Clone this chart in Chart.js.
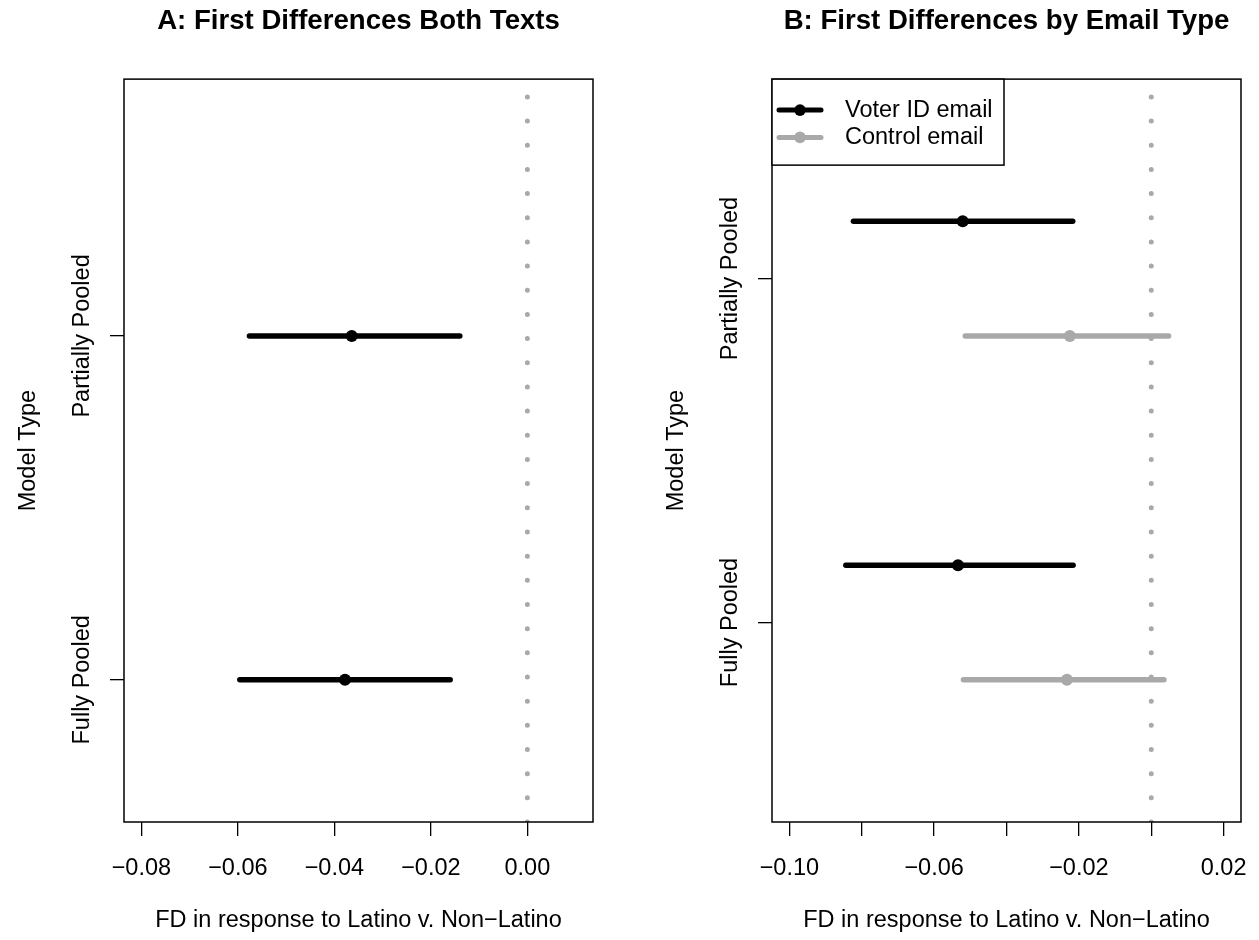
<!DOCTYPE html>
<html>
<head>
<meta charset="utf-8">
<script src="https://cdn.jsdelivr.net/npm/chart.js@4.4.0/dist/chart.umd.min.js"></script>
<style>
  body { margin: 0; background: #fff; overflow: hidden; width: 1259px; height: 940px; position: relative; }
  canvas { position: absolute; top: 0; }
  #chartA { left: 0; }
  #chartB { left: 648px; }
</style>
</head>
<body>
<canvas id="chartA" width="717" height="940"></canvas>
<canvas id="chartB" width="717" height="940"></canvas>
<script>
// models on the y axis
var models = ['Fully Pooled', 'Partially Pooled'];
var modelPos = [1, 2];

// panel A: both texts
var aLower = [-0.0596, -0.0576];
var aEst   = [-0.0378, -0.0364];
var aUpper = [-0.0160, -0.0140];

// panel B: by email type
var emailTypes = ['Voter ID email', 'Control email'];
var emailOffset = [1 / 6, -1 / 6];
var voterLower   = [-0.0844, -0.0823];
var voterEst     = [-0.0534, -0.0521];
var voterUpper   = [-0.0216, -0.0217];
var controlLower = [-0.0519, -0.0514];
var controlEst   = [-0.0233, -0.0225];
var controlUpper = [0.0035, 0.0048];

// x ticks
var ticksA = [-0.08, -0.06, -0.04, -0.02, 0];
var tickLabelsA = ['\u22120.08', '\u22120.06', '\u22120.04', '\u22120.02', '0.00'];
var ticksB = [-0.10, -0.08, -0.06, -0.04, -0.02, 0, 0.02];
var tickLabelsB = ['\u22120.10', '', '\u22120.06', '', '\u22120.02', '', '0.02'];

var BLACK = '#000000';
var GRAY = '#a9a9a9';
var FONT = '"Liberation Sans", Arial, Helvetica, sans-serif';
var FS = 23.5;

Chart.defaults.font.family = FONT;
Chart.defaults.color = BLACK;

function intervalSets(lower, est, upper, pos, color) {
  var sets = [];
  for (var i = 0; i < est.length; i++) {
    sets.push({
      data: [{x: lower[i], y: pos[i]}, {x: upper[i], y: pos[i]}],
      showLine: true, borderColor: color, borderWidth: 5.5, borderCapStyle: 'round',
      pointRadius: 0, order: 1
    });
  }
  sets.push({
    data: est.map(function (v, i) { return {x: v, y: pos[i]}; }),
    pointRadius: 6, pointBackgroundColor: color, pointBorderColor: color, pointBorderWidth: 0,
    order: 0
  });
  return sets;
}

function zeroLine(ymin, ymax) {
  return {
    data: [{x: 0, y: ymin}, {x: 0, y: ymax}],
    showLine: true, borderColor: GRAY, borderWidth: 5, borderDash: [0, 24.17],
    borderCapStyle: 'round', pointRadius: 0, order: 2
  };
}

var framePlugin = {
  id: 'frame',
  afterDatasetsDraw: function (chart) {
    var a = chart.chartArea, ctx = chart.ctx;
    ctx.save();
    ctx.strokeStyle = BLACK;
    ctx.lineWidth = 1.5;
    ctx.strokeRect(a.left, a.top, a.right - a.left, a.bottom - a.top);
    ctx.restore();
  }
};

var modelLabelPlugin = {
  id: 'modelLabels',
  afterDraw: function (chart) {
    var ctx = chart.ctx, a = chart.chartArea, ys = chart.scales.y;
    ctx.save();
    ctx.fillStyle = BLACK;
    ctx.font = FS + 'px ' + FONT;
    ctx.textAlign = 'center';
    ctx.textBaseline = 'middle';
    models.forEach(function (name, i) {
      ctx.save();
      ctx.translate(a.left - 41.4, ys.getPixelForValue(modelPos[i]));
      ctx.rotate(-Math.PI / 2);
      ctx.fillText(name, 0, 0);
      ctx.restore();
    });
    ctx.restore();
  }
};

var legendBoxPlugin = {
  id: 'legendBox',
  afterDraw: function (chart, args, opts) {
    if (!opts.items) return;
    var ctx = chart.ctx, a = chart.chartArea;
    ctx.save();
    ctx.fillStyle = '#fff';
    ctx.fillRect(a.left, a.top, 232, 86);
    ctx.strokeStyle = BLACK;
    ctx.lineWidth = 1.5;
    ctx.strokeRect(a.left, a.top, 232, 86);
    ctx.font = FS + 'px ' + FONT;
    ctx.textBaseline = 'middle';
    opts.items.forEach(function (it, i) {
      var yy = a.top + 31 + i * 27.3;
      ctx.strokeStyle = it.color;
      ctx.lineWidth = 5;
      ctx.lineCap = 'round';
      ctx.beginPath();
      ctx.moveTo(a.left + 7, yy);
      ctx.lineTo(a.left + 49, yy);
      ctx.stroke();
      ctx.fillStyle = it.color;
      ctx.beginPath();
      ctx.arc(a.left + 28, yy, 5.8, 0, Math.PI * 2);
      ctx.fill();
      ctx.fillStyle = BLACK;
      ctx.fillText(it.label, a.left + 73, yy);
    });
    ctx.restore();
  }
};

function makeChart(id, title, datasets, xmin, xmax, ticks, labels, ymin, ymax, legendItems) {
  return new Chart(document.getElementById(id), {
    type: 'scatter',
    data: { datasets: datasets },
    plugins: [framePlugin, modelLabelPlugin, legendBoxPlugin],
    options: {
      responsive: false,
      animation: false,
      layout: { padding: 0 },
      plugins: {
        legend: { display: false },
        tooltip: { enabled: false },
        title: {
          display: true, text: title, color: BLACK,
          font: { size: 27.6, weight: 'bold' },
          padding: { top: 5, bottom: 41 }
        },
        legendBox: { items: legendItems }
      },
      scales: {
        x: {
          type: 'linear', min: xmin, max: xmax,
          afterBuildTicks: function (s) { s.ticks = ticks.map(function (v) { return {value: v}; }); },
          afterFit: function (s) { s.height = 118; },
          border: { display: false },
          grid: { drawOnChartArea: false, tickLength: 14, color: BLACK, lineWidth: 1.3 },
          ticks: {
            autoSkip: false, maxRotation: 0, minRotation: 0, padding: 18, color: BLACK,
            font: { size: FS },
            callback: function (v, i) { return labels[i]; }
          },
          title: {
            display: true, text: 'FD in response to Latino v. Non\u2212Latino', color: BLACK,
            font: { size: FS }, padding: { top: 0, bottom: 5 }
          }
        },
        y: {
          type: 'linear', min: ymin, max: ymax,
          afterBuildTicks: function (s) { s.ticks = modelPos.map(function (v) { return {value: v}; }); },
          afterFit: function (s) { s.width = 124; },
          border: { display: false },
          grid: { drawOnChartArea: false, tickLength: 14, color: BLACK, lineWidth: 1.3 },
          ticks: { display: false },
          title: {
            display: true, text: 'Model Type', color: BLACK,
            font: { size: FS }, padding: { top: 14, bottom: 0 }
          }
        },
        yRight: {
          type: 'linear', position: 'right', display: true,
          afterFit: function (s) { s.width = 124; },
          border: { display: false },
          grid: { display: false },
          ticks: { display: false }
        }
      }
    }
  });
}

// panel A
var yMinA = 0.5867, yMaxA = 2.7467;
var setsA = intervalSets(aLower, aEst, aUpper, modelPos, BLACK).concat([zeroLine(yMinA, yMaxA)]);
makeChart('chartA', 'A: First Differences Both Texts', setsA, -0.0836, 0.0136,
  ticksA, tickLabelsA, yMinA, yMaxA, null);

// panel B
var yMinB = 0.42, yMaxB = 2.58;
var voterPos = modelPos.map(function (p) { return p + emailOffset[0]; });
var controlPos = modelPos.map(function (p) { return p + emailOffset[1]; });
var setsB = intervalSets(voterLower, voterEst, voterUpper, voterPos, BLACK)
  .concat(intervalSets(controlLower, controlEst, controlUpper, controlPos, GRAY))
  .concat([zeroLine(yMinB, yMaxB)]);
makeChart('chartB', 'B: First Differences by Email Type', setsB, -0.1048, 0.0248,
  ticksB, tickLabelsB, yMinB, yMaxB,
  [{label: emailTypes[0], color: BLACK}, {label: emailTypes[1], color: GRAY}]);
</script>
</body>
</html>
